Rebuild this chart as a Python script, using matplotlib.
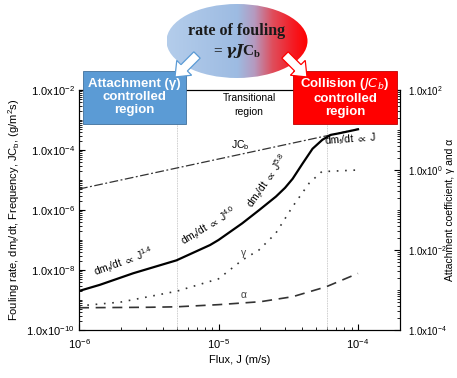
import matplotlib
matplotlib.use("Agg")
import matplotlib.pyplot as plt
import numpy as np
from matplotlib.patches import Ellipse, Rectangle, FancyArrow
from matplotlib.colors import LinearSegmentedColormap
from matplotlib.ticker import LogLocator, FixedLocator, NullFormatter

plt.rcParams['font.family'] = ['Liberation Sans', 'DejaVu Sans']
plt.rcParams['mathtext.default'] = 'regular'
plt.rcParams['font.size'] = 8

# fouling rate dm_f/dt (left axis)
flux_dm = [1e-6, 1.41e-6, 2.45e-6, 5.0e-6, 8.7e-6, 1.0e-5, 1.48e-5, 1.96e-5, 2.58e-5,
           3.0e-5, 3.4e-5, 4.0e-5, 4.72e-5, 5.56e-5, 6.38e-5, 7.31e-5, 1e-4]
dmdt = [2.0e-9, 3.2e-9, 7.8e-9, 2.1e-8, 6.8e-8, 1.0e-7, 3.6e-7, 1.0e-6, 2.8e-6,
        5.5e-6, 1.1e-5, 3.5e-5, 1.1e-4, 2.2e-4, 3.2e-4, 3.6e-4, 4.9e-4]
# collision frequency J*Cb (left axis)
flux_jcb = [1e-6, 1e-4]
jcb = [5e-6, 5e-4]
# attachment coefficient gamma (right axis)
flux_gamma = [1e-6, 2e-6, 5e-6, 1e-5, 1.48e-5, 1.95e-5, 2.57e-5, 3.39e-5, 4.47e-5, 5.5e-5, 1e-4]
gamma = [4.0e-4, 5.0e-4, 9.3e-4, 1.9e-3, 5.6e-3, 1.0e-2, 2.6e-2, 0.12, 0.47, 0.91, 1.0]
# alpha (right axis)
flux_alpha = [1e-6, 3.2e-6, 5e-6, 1e-5, 2e-5, 3.4e-5, 5.9e-5, 1e-4]
alpha = [3.6e-4, 3.7e-4, 3.8e-4, 4.3e-4, 5.1e-4, 6.8e-4, 1.2e-3, 2.6e-3]

region_lines = [5e-6, 6e-5]
left_labels = [-10, -8, -6, -4, -2]
right_labels = [-4, -2, 0, 2]

fig = plt.figure(figsize=(4.57, 3.78), dpi=100)
ax = fig.add_axes([79/457, 48/378, 321/457, 240/378])
ax.set_xscale('log')
ax.set_yscale('log')
ax.set_xlim(1e-6, 2e-4)
ax.set_ylim(1e-10, 1e-2)

for xv in region_lines:
    ax.axvline(xv, color='#bbbbbb', lw=0.6, ls=(0, (1, 1)))

ax.plot(flux_jcb, jcb, color='#333333', lw=0.9, ls=(0, (7, 2, 1.5, 2)))
ax.plot(flux_dm, dmdt, color='black', lw=1.6)

ax.set_xticks([1e-6, 1e-5, 1e-4])
ax.set_xticklabels(['10$^{-6}$', '10$^{-5}$', '10$^{-4}$'])
ax.xaxis.set_minor_locator(LogLocator(subs=np.arange(2, 10)))
ax.xaxis.set_minor_formatter(NullFormatter())
ax.yaxis.set_major_locator(FixedLocator([10.0**e for e in left_labels]))
ax.set_yticklabels(['1.0x10$^{%d}$' % e for e in left_labels])
ax.yaxis.set_minor_locator(LogLocator(subs=np.arange(1, 10), numticks=30))
ax.yaxis.set_minor_formatter(NullFormatter())
ax.tick_params(which='both', direction='in', top=False)
ax.tick_params(which='major', length=4)
ax.tick_params(which='minor', length=2)
ax.tick_params(axis='x', pad=5)
ax.tick_params(axis='y', pad=3)

ax2 = ax.twinx()
ax2.set_yscale('log')
ax2.set_ylim(1e-4, 1e2)
ax2.plot(flux_gamma, gamma, color='#333333', lw=1.2, ls=(0, (1, 4)))
ax2.plot(flux_alpha, alpha, color='#333333', lw=1.2, ls=(0, (6, 4)))
ax2.yaxis.set_major_locator(FixedLocator([10.0**e for e in right_labels]))
ax2.set_yticklabels(['1.0x10$^{%d}$' % e for e in right_labels])
ax2.yaxis.set_minor_locator(LogLocator(subs=np.arange(1, 10), numticks=30))
ax2.yaxis.set_minor_formatter(NullFormatter())
ax2.tick_params(which='both', direction='in', pad=6, labelsize=7)
ax2.tick_params(which='major', length=4)
ax2.tick_params(which='minor', length=2)

# overlay in figure pixel coordinates
ov = fig.add_axes([0, 0, 1, 1], zorder=10)
ov.set_xlim(0, 457)
ov.set_ylim(378, 0)
ov.axis('off')
ov.patch.set_alpha(0)

ov.text(240, 360, 'Flux, J (m/s)', ha='center', va='center', fontsize=8)
ov.text(14, 210, 'Fouling rate, dm$_f$/dt, Frequency, JC$_b$, (g/m$^2$s)', rotation=90,
        ha='center', va='center', fontsize=8)
ov.text(450, 210, 'Attachment coefficient, \u03b3 and \u03b1', rotation=90,
        ha='center', va='center', fontsize=7.5)

ov.text(124, 262, 'dm$_f$/dt $\\propto$ J$^{1.4}$', rotation=20, ha='center', va='center', fontsize=7.5)
ov.text(209, 226, 'dm$_f$/dt $\\propto$ J$^{4.0}$', rotation=31, ha='center', va='center', fontsize=7.5)
ov.text(268, 181, 'dm$_f$/dt $\\propto$ J$^{5.8}$', rotation=55, ha='center', va='center', fontsize=7.5)
ov.text(350, 139, 'dm$_f$/dt $\\propto$ J', rotation=4, ha='center', va='center', fontsize=7.5)
ov.text(240, 145, 'JC$_b$', ha='center', va='center', fontsize=7.5)
ov.text(244, 253, '\u03b3', ha='center', va='center', fontsize=7.5, color='#444444')
ov.text(244, 295, '\u03b1', ha='center', va='center', fontsize=7.5, color='#444444')
ov.text(249, 105, 'Transitional\nregion', ha='center', va='center', fontsize=7.5, linespacing=1.4)

# ellipse with blue-to-red gradient
cmap = LinearSegmentedColormap.from_list('br', [(0, '#b4cdeb'), (0.5, '#9dbbe2'), (0.62, '#b59ac0'),
                                                (0.75, '#df4e5c'), (0.9, '#f51a22'), (1, '#ff0000')])
ell = Ellipse((237, 41), 141, 74, facecolor='none', edgecolor='none')
ov.add_patch(ell)
grad = np.linspace(0, 1, 256).reshape(1, -1)
im = ov.imshow(grad, cmap=cmap, extent=(166.5, 307.5, 78, 4), aspect='auto', zorder=2)
im.set_clip_path(ell)
ov.text(237, 31, 'rate of fouling', fontfamily='Liberation Serif', fontweight='bold',
        ha='center', va='center', fontsize=11.5, color='#1a1a1a', zorder=3)
ov.text(237, 51, '= $\\boldsymbol{\\gamma J C_b}$', fontfamily='Liberation Serif', fontweight='bold',
        math_fontfamily='dejavuserif', ha='center', va='center', fontsize=11, color='#1a1a1a', zorder=3)

# region boxes
ov.add_patch(Rectangle((83, 71), 103, 53, facecolor='#5b9bd5', edgecolor='#41719c', lw=0.6, zorder=3))
ov.add_patch(Rectangle((293, 71), 104, 53, facecolor='#ff0000', edgecolor='#c00000', lw=0.6, zorder=3))
ov.text(134.5, 97, 'Attachment (\u03b3)\ncontrolled\nregion', color='white', fontweight='bold',
        ha='center', va='center', fontsize=9.5, linespacing=1.1, zorder=5)
ov.text(345, 97, 'Collision ($\\it{JC_b}$)\ncontrolled\nregion', color='white', fontweight='bold',
        ha='center', va='center', fontsize=9.5, linespacing=1.1, zorder=5)

# block arrows from the ellipse to the boxes
ov.add_patch(FancyArrow(197, 55, -22, 22, width=9, head_width=21, head_length=13,
                        length_includes_head=True, facecolor='white', edgecolor='#5b9bd5', lw=0.9, zorder=4))
ov.add_patch(FancyArrow(285, 55, 22, 22, width=9, head_width=21, head_length=13,
                        length_includes_head=True, facecolor='white', edgecolor='#ff0000', lw=0.9, zorder=4))

fig.savefig('out.png', dpi=100)
